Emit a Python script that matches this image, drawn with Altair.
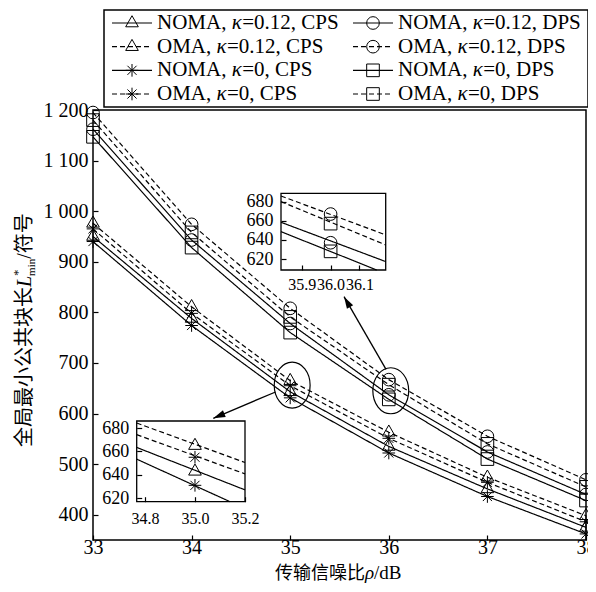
import math
import re
import altair as alt
import pandas as pd

# ---------------- data ----------------
snr = [33, 34, 35, 36, 37, 38]
noma_k012_cps = [950, 788, 643, 535, 451, 375]
oma_k012_cps = [976, 811, 665, 563, 474, 398]
noma_k0_cps = [940, 774, 631, 522, 436, 362]
oma_k0_cps = [965, 798, 655, 551, 464, 386]
noma_k012_dps = [1162, 943, 778, 637, 524, 440]
oma_k012_dps = [1195, 974, 808, 667, 555, 469]
noma_k0_dps = [1147, 928, 760, 628, 510, 428]
oma_k0_dps = [1180, 958, 791, 657, 540, 455]

series_names = ["NOMA, κ=0.12, CPS", "OMA, κ=0.12, CPS", "NOMA, κ=0, CPS", "OMA, κ=0, CPS",
                "NOMA, κ=0.12, DPS", "OMA, κ=0.12, DPS", "NOMA, κ=0, DPS", "OMA, κ=0, DPS"]
series_values = [noma_k012_cps, oma_k012_cps, noma_k0_cps, oma_k0_cps,
                 noma_k012_dps, oma_k012_dps, noma_k0_dps, oma_k0_dps]
series_dash = ["solid", "dashed", "solid", "dashed", "solid", "dashed", "solid", "dashed"]
series_marker = ["triangle", "triangle", "star", "star", "circle", "circle", "square", "square"]

y_ticks = [400, 500, 600, 700, 800, 900, 1000, 1100, 1200]
x_domain = [33, 38]
y_domain = [350, 1200]

# inset around rho = 35 (CPS)
inset1_names = ["OMA, κ=0.12, CPS", "OMA, κ=0, CPS", "NOMA, κ=0.12, CPS", "NOMA, κ=0, CPS"]
inset1_x0 = [34.767, 34.767, 34.767, 34.767]
inset1_y0 = [684.3, 674.3, 663.4, 653.4]
inset1_x1 = [35.2, 35.2, 35.2, 35.14]
inset1_y1 = [650.5, 640.8, 627.1, 617.0]
inset1_mark_x = 35
inset1_xdomain = [34.767, 35.2]
inset1_ydomain = [617, 686]
inset1_xticks = [34.8, 35.0, 35.2]
inset1_yticks = [620, 640, 660, 680]

# inset around rho = 36 (DPS)
inset2_names = ["OMA, κ=0.12, DPS", "OMA, κ=0, DPS", "NOMA, κ=0.12, DPS", "NOMA, κ=0, DPS"]
inset2_x0 = [35.828, 35.828, 35.828, 35.828]
inset2_y0 = [685.9, 680.0, 658.4, 648.6]
inset2_x1 = [36.191, 36.191, 36.191, 36.16]
inset2_y1 = [645.2, 634.7, 617.3, 608.5]
inset2_mark_x = 36
inset2_xdomain = [35.828, 36.191]
inset2_ydomain = [608.5, 688.7]
inset2_xticks = [35.9, 36.0, 36.1]
inset2_yticks = [620, 640, 660, 680]

# annotations (data coordinates of main plot)
ellipse_x = [35.02, 36.02]
ellipse_y = [656, 645]
arrow_x0 = [34.851, 35.972]
arrow_y0 = [642.6, 687.4]
arrow_x1 = [34.22, 35.546]
arrow_y1 = [590.6, 831.0]

# ---------------- layout / style ----------------
W, H = 493, 430
SERIF = "Liberation Serif"
CJK = "Noto Sans CJK SC"
inset1_px = [43.7, 152.0]
inset1_py = [391.7, 311.0]
inset2_px = [188.0, 292.7]
inset2_py = [160.0, 83.3]

marker_domain = ["triangle", "star", "circle", "square"]
marker_paths = ["M0,-1.15L1,0.6L-1,0.6Z",
                "M0,-1L0,1M-1,0L1,0M-0.72,-0.72L0.72,0.72M-0.72,0.72L0.72,-0.72",
                "circle", "square"]
marker_sizes = [160, 160, 100, 80]
shape_scale = alt.Scale(domain=marker_domain, range=marker_paths)
size_scale = alt.Scale(domain=marker_domain, range=marker_sizes)
dash_scale = alt.Scale(domain=["solid", "dashed"], range=[[1, 0], [5, 3]])

# ---------------- tables ----------------
rows = []
for name, vals, dash, mk in zip(series_names, series_values, series_dash, series_marker):
    for x, v in zip(snr, vals):
        rows.append({"name": name, "snr": x, "L": v, "dash": dash, "marker": mk})
df_main = pd.DataFrame(rows)


def inset_tables(names, x0, y0, x1, y1, mark_x):
    seg = []
    pts = []
    for n, a, b, c, d in zip(names, x0, y0, x1, y1):
        i = series_names.index(n)
        seg.append({"name": n, "x": a, "y": b, "dash": series_dash[i]})
        seg.append({"name": n, "x": c, "y": d, "dash": series_dash[i]})
        pts.append({"name": n, "x": mark_x, "y": series_values[i][snr.index(mark_x)],
                    "marker": series_marker[i]})
    return pd.DataFrame(seg), pd.DataFrame(pts)


def sx():
    return alt.Scale(domain=x_domain, nice=False, zero=False)


def sy():
    return alt.Scale(domain=y_domain, nice=False, zero=False)


main_x_axis = alt.Axis(orient="top", offset=-H, values=snr, format="d", tickSize=5,
                       tickWidth=1.2, domain=False, grid=False, labelBaseline="middle",
                       labelPadding=-12, labelFontSize=20, labelFlush=False,
                       labelOverlap=False, title=None, zindex=1)
main_y_axis = alt.Axis(orient="right", offset=-W, values=y_ticks, tickSize=5,
                       tickWidth=1.2, domain=False, grid=False, labelAlign="right",
                       labelBaseline="middle", labelPadding=-10, labelFontSize=20,
                       labelFlush=False, labelOverlap=False,
                       labelExpr="datum.value >= 1000 ? '1 ' + format(datum.value - 1000, '03d') : format(datum.value, 'd')",
                       title=None, zindex=1)

layers = []

layers.append(alt.Chart(df_main).mark_line(color="black", strokeWidth=1.2).encode(
    x=alt.X("snr:Q", scale=sx(), axis=main_x_axis),
    y=alt.Y("L:Q", scale=sy(), axis=main_y_axis),
    detail="name:N",
    strokeDash=alt.StrokeDash("dash:N", scale=dash_scale, legend=None),
    order="snr:Q",
))
layers.append(alt.Chart(df_main).mark_point(filled=False, color="black", strokeWidth=1, opacity=1).encode(
    x=alt.X("snr:Q", scale=sx(), axis=None),
    y=alt.Y("L:Q", scale=sy(), axis=None),
    shape=alt.Shape("marker:N", scale=shape_scale, legend=None),
    size=alt.Size("marker:N", scale=size_scale, legend=None),
))

df_ell = pd.DataFrame({"x": ellipse_x, "y": ellipse_y})
layers.append(alt.Chart(df_ell).mark_point(
    shape="M-0.78,0A0.78,1,0,1,0,0.78,0A0.78,1,0,1,0,-0.78,0Z",
    size=2116, filled=False, color="black", strokeWidth=1.2, opacity=1,
).encode(x=alt.X("x:Q", scale=sx(), axis=None), y=alt.Y("y:Q", scale=sy(), axis=None)))

kx = W / (x_domain[1] - x_domain[0])
ky = H / (y_domain[1] - y_domain[0])
angles = []
for a, b, c, d in zip(arrow_x0, arrow_y0, arrow_x1, arrow_y1):
    dxp = (c - a) * kx
    dyp = -(d - b) * ky
    angles.append((math.degrees(math.atan2(dxp, -dyp)) + 360) % 360)
df_arr = pd.DataFrame({"x0": arrow_x0, "y0": arrow_y0, "x1": arrow_x1, "y1": arrow_y1, "ang": angles})
layers.append(alt.Chart(df_arr).mark_rule(color="black", strokeWidth=1.3).encode(
    x=alt.X("x0:Q", scale=sx(), axis=None), y=alt.Y("y0:Q", scale=sy(), axis=None),
    x2="x1:Q", y2="y1:Q"))
layers.append(alt.Chart(df_arr).mark_point(
    shape="M0,0L0.6,2L-0.6,2Z", size=144, filled=True, color="black", opacity=1
).encode(x=alt.X("x1:Q", scale=sx(), axis=None), y=alt.Y("y1:Q", scale=sy(), axis=None),
         angle=alt.Angle("ang:Q", scale=None)))


def make_inset(names, x0, y0, x1, y1, mark_x, xdom, ydom, xticks, yticks, px, py, xlab_pad):
    seg, pts = inset_tables(names, x0, y0, x1, y1, mark_x)

    def ix():
        return alt.Scale(domain=xdom, range=px, nice=False, zero=False)

    def iy():
        return alt.Scale(domain=ydom, range=py, nice=False, zero=False)

    xa = alt.Axis(orient="top", offset=-py[0], values=xticks, format=".1f", tickSize=5,
                  tickWidth=1.2, domain=False, grid=False, labelBaseline="middle",
                  labelPadding=xlab_pad, labelFontSize=16, labelFlush=False,
                  labelOverlap=False, title=None, zindex=1)
    ya = alt.Axis(orient="right", offset=px[0] - W, values=yticks, format="d", tickSize=5,
                  tickWidth=1.2, domain=False, grid=False, labelAlign="right",
                  labelBaseline="middle", labelPadding=-13, labelFontSize=18,
                  labelFlush=False, labelOverlap=False, title=None, zindex=1)
    frame = alt.Chart(alt.Data(values=[{"a": xdom[0], "b": xdom[1], "c": ydom[0], "d": ydom[1]}])).mark_rect(
        fill="white", stroke="black", strokeWidth=1.3
    ).encode(x=alt.X("a:Q", scale=ix(), axis=None), x2="b:Q",
             y=alt.Y("c:Q", scale=iy(), axis=None), y2="d:Q")
    ln = alt.Chart(seg).mark_line(color="black", strokeWidth=1.2).encode(
        x=alt.X("x:Q", scale=ix(), axis=xa), y=alt.Y("y:Q", scale=iy(), axis=ya),
        detail="name:N",
        strokeDash=alt.StrokeDash("dash:N", scale=dash_scale, legend=None))
    pt = alt.Chart(pts).mark_point(filled=False, color="black", strokeWidth=1, opacity=1).encode(
        x=alt.X("x:Q", scale=ix(), axis=None), y=alt.Y("y:Q", scale=iy(), axis=None),
        shape=alt.Shape("marker:N", scale=shape_scale, legend=None),
        size=alt.Size("marker:N", scale=size_scale, legend=None))
    return [frame, ln, pt]


layers += make_inset(inset1_names, inset1_x0, inset1_y0, inset1_x1, inset1_y1, inset1_mark_x,
                     inset1_xdomain, inset1_ydomain, inset1_xticks, inset1_yticks,
                     inset1_px, inset1_py, -21.6)
layers += make_inset(inset2_names, inset2_x0, inset2_y0, inset2_x1, inset2_y1, inset2_mark_x,
                     inset2_xdomain, inset2_ydomain, inset2_xticks, inset2_yticks,
                     inset2_px, inset2_py, -19)

# ---------------- legend ----------------
leg_rows = []
for i, (name, dash, mk) in enumerate(zip(series_names, series_dash, series_marker)):
    m = re.match(r"^(.*?) (κ)(.*)$", name)
    leg_rows.append({"name": name, "col": i // 4, "row": i % 4, "dash": dash, "marker": mk,
                     "prefix": m.group(1), "kappa": m.group(2), "rest": m.group(3)})
df_leg = pd.DataFrame(leg_rows)

LFS = 21


def lx():
    return alt.X("col:Q", scale=alt.Scale(domain=[0, 1], range=[39, 280]), axis=None)


def ly():
    return alt.Y("row:Q", scale=alt.Scale(domain=[0, 3], range=[-87, -16]), axis=None)


layers.append(alt.Chart(alt.Data(values=[{"b": 1}])).mark_rect(
    fill="white", stroke="black", strokeWidth=1.5
).encode(x=alt.value(11), x2=alt.value(495), y=alt.value(-100), y2=alt.value(-3)))
layers.append(alt.Chart(df_leg).mark_rule(color="black", strokeWidth=1.2, xOffset=-20, x2Offset=20).encode(
    x=lx(), x2="col:Q", y=ly(),
    strokeDash=alt.StrokeDash("dash:N", scale=dash_scale, legend=None)))
layers.append(alt.Chart(df_leg).mark_point(filled=False, color="black", strokeWidth=1, opacity=1).encode(
    x=lx(), y=ly(),
    shape=alt.Shape("marker:N", scale=shape_scale, legend=None),
    size=alt.Size("marker:N", scale=size_scale, legend=None)))
layers.append(alt.Chart(df_leg).mark_text(align="left", baseline="middle", dx=25, font=SERIF,
                                          fontSize=LFS, color="black").encode(x=lx(), y=ly(), text="prefix:N"))
char_w = {"N": 0.722, "O": 0.722, "M": 0.889, "A": 0.722, ",": 0.25}
for p in sorted(set(df_leg["prefix"])):
    wpre = sum(char_w[c] for c in p) * LFS + 0.25 * LFS
    kdx = 25 + wpre
    layers.append(alt.Chart(df_leg).transform_filter(alt.datum.prefix == p).mark_text(
        align="left", baseline="middle", dx=kdx, font=SERIF, fontStyle="italic",
        fontSize=LFS, color="black").encode(x=lx(), y=ly(), text="kappa:N"))
    layers.append(alt.Chart(df_leg).transform_filter(alt.datum.prefix == p).mark_text(
        align="left", baseline="middle", dx=kdx + 0.5 * LFS, font=SERIF,
        fontSize=LFS, color="black").encode(x=lx(), y=ly(), text="rest:N"))

# ---------------- axis titles (mixed styles) ----------------
XFS = 18
xt0 = W / 2 - (5 * XFS + 0.5 * XFS + 1.667 * XFS) / 2
xt_y = 469
YFS = 20
yt_x = -62.5
yt0 = 337
title_pieces = [
    {"t": "传输信噪比", "x": xt0, "y": xt_y, "font": CJK, "size": XFS, "style": "normal", "angle": 0},
    {"t": "ρ", "x": xt0 + 5 * XFS, "y": xt_y, "font": SERIF, "size": XFS + 1, "style": "italic", "angle": 0},
    {"t": "/dB", "x": xt0 + 5.5 * XFS, "y": xt_y, "font": SERIF, "size": XFS + 1, "style": "normal", "angle": 0},
    {"t": "全局最小公共块长", "x": yt_x, "y": yt0, "font": CJK, "size": YFS, "style": "normal", "angle": 270},
    {"t": "L", "x": yt_x, "y": yt0 - 8 * YFS, "font": SERIF, "size": YFS, "style": "italic", "angle": 270},
    {"t": "*", "x": yt_x - 9, "y": yt0 - 8 * YFS - 0.556 * YFS, "font": SERIF, "size": 13, "style": "normal", "angle": 270},
    {"t": "min", "x": yt_x + 4, "y": yt0 - 8 * YFS - 0.556 * YFS, "font": SERIF, "size": 11, "style": "normal", "angle": 270},
    {"t": "/符号", "x": yt_x, "y": yt0 - 8 * YFS - 0.556 * YFS - 1.556 * 11, "font": SERIF + ", " + CJK,
     "size": YFS, "style": "normal", "angle": 270},
]
for p in title_pieces:
    layers.append(alt.Chart(alt.Data(values=[{"t": p["t"]}])).mark_text(
        align="left", baseline="alphabetic", font=p["font"], fontSize=p["size"],
        fontStyle=p["style"], angle=p["angle"], color="black"
    ).encode(text="t:N", x=alt.value(p["x"]), y=alt.value(p["y"])))

chart = alt.layer(*layers).resolve_scale(
    x="independent", y="independent"
).properties(
    width=W, height=H,
    padding={"left": 85, "top": 102, "right": 2, "bottom": 43},
    autosize=alt.AutoSizeParams(type="none"),
).configure_view(stroke="black", strokeWidth=1.5).configure_axis(
    labelFont=SERIF, labelColor="black", tickColor="black"
)

chart.save("out.html", embed_options={"renderer": "svg", "actions": False})
